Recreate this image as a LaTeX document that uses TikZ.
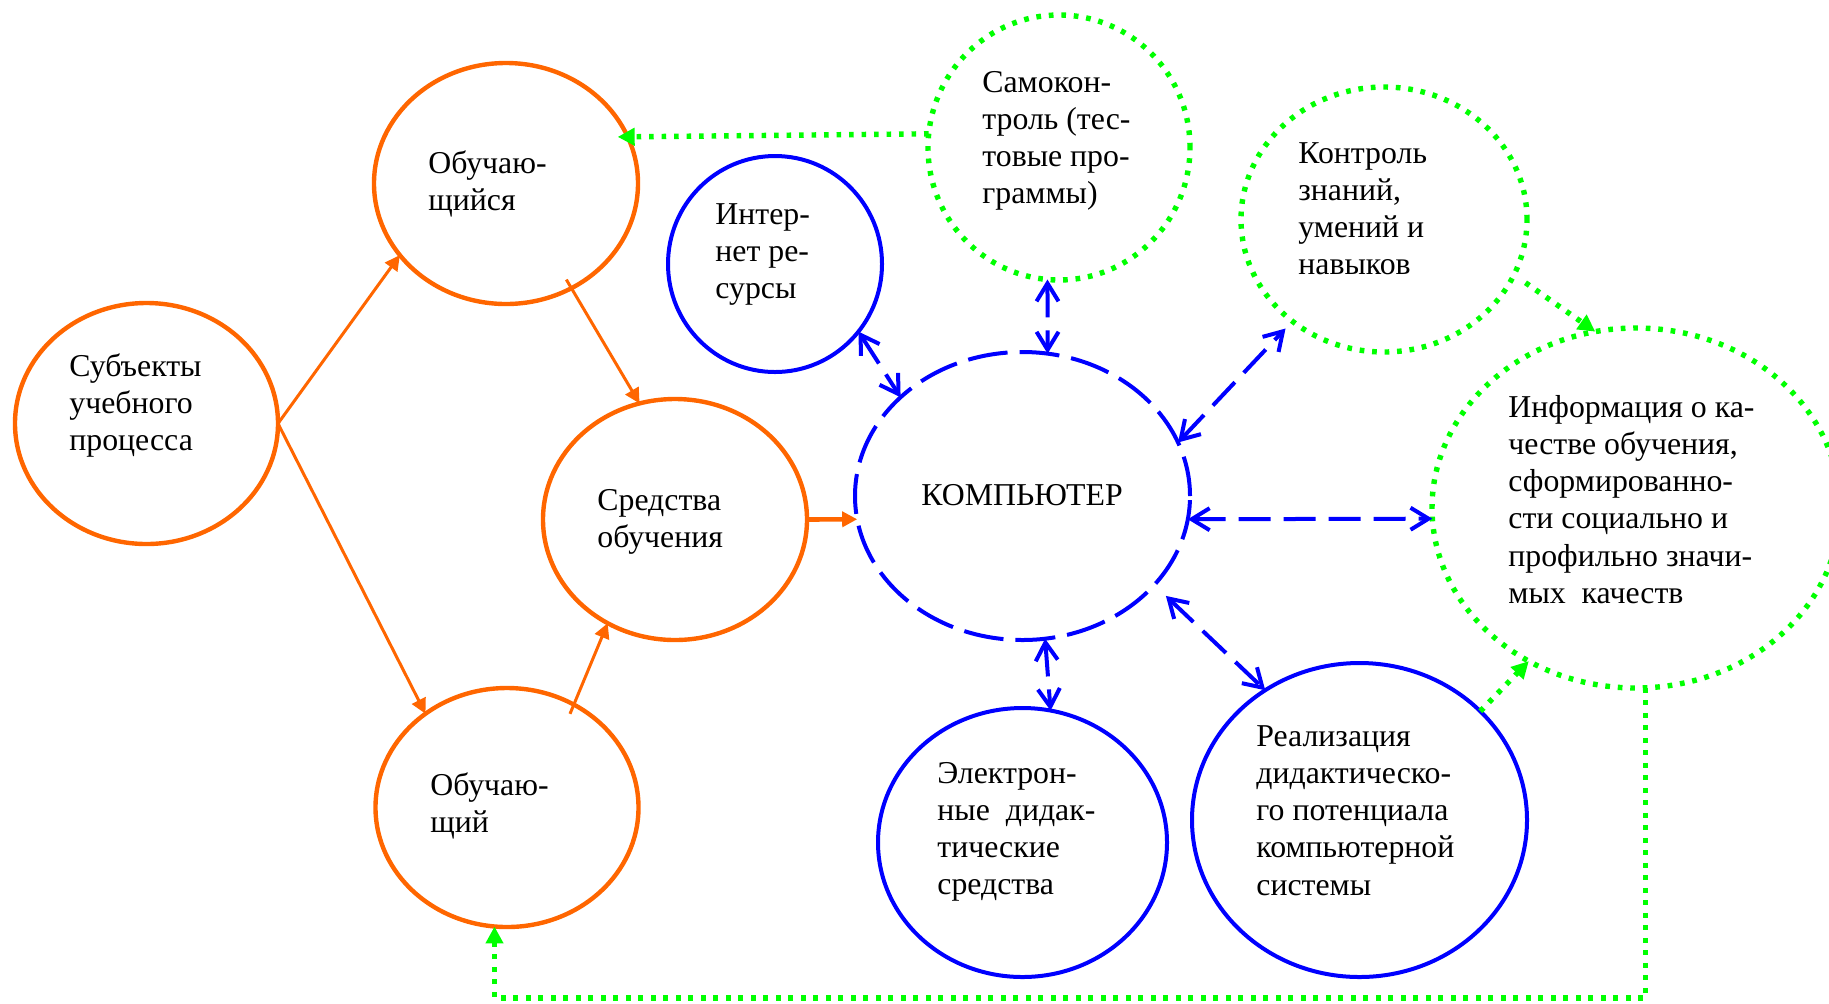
\documentclass[tikz,border=0pt]{standalone}
\usepackage{fontspec}
\setmainfont{Liberation Serif}
\usetikzlibrary{shapes.geometric,arrows.meta}
\definecolor{org}{RGB}{255,102,0}
\definecolor{blu}{RGB}{0,0,255}
\definecolor{grn}{RGB}{0,255,0}
\begin{document}
\begin{tikzpicture}[x=0.5pt,y=-0.5pt,
 ell/.style={ellipse, inner sep=0pt, outer sep=0pt},
 oell/.style={ell, draw=org, line width=2.2pt},
 bell/.style={ell, draw=blu, line width=2pt},
 bdash/.style={bell, dash pattern=on 20pt off 6pt},
 gell/.style={ell, draw=grn, line width=2.7pt, dash pattern=on 2.35pt off 3.9pt},
 txt/.style={anchor=base west, inner sep=0pt, align=left, font=\fontsize{15.9}{18.65}\selectfont},
 oarr/.style={draw=org, line width=1.5pt, -{Triangle[length=7.5pt,width=7.5pt]}},
 barr/.style={draw=blu, line width=2pt, dash pattern=on 16pt off 6.5pt, {Straight Barb[length=9pt,width=11pt]}-{Straight Barb[length=9pt,width=11pt]}},
 garr/.style={draw=grn, line width=2.7pt, dash pattern=on 2.35pt off 3.9pt, -{Triangle[length=8.5pt,width=8.5pt]}},
]
\useasboundingbox (0,0) rectangle (1829,1003);
% ellipses
\node[oell, minimum width=131.5pt, minimum height=120.5pt] (A) at (146.5,423.5) {};
\node[oell, minimum width=132pt, minimum height=120.5pt] (B) at (506,183.5) {};
\node[oell, minimum width=132pt, minimum height=120.5pt] (C) at (675,519.5) {};
\node[oell, minimum width=131.5pt, minimum height=119.5pt] (D) at (507,807.5) {};
\node[bell, minimum width=107pt, minimum height=108pt] (E) at (775,264) {};
\node[bdash, minimum width=167.5pt, minimum height=144pt] (F) at (1022.5,496) {};
\node[gell, minimum width=131pt, minimum height=132.5pt] (G) at (1059,147.5) {};
\node[gell, minimum width=143pt, minimum height=132.5pt] (H) at (1384,219.5) {};
\node[gell, minimum width=204pt, minimum height=180pt] (I) at (1636,508) {};
\node[bell, minimum width=144.5pt, minimum height=134.5pt] (J) at (1022.5,842.5) {};
\node[bell, minimum width=167.5pt, minimum height=157pt] (K) at (1359.5,820) {};
% texts (anchored at the baseline of the last line)
\node[txt] (tA) at (69,450.6) {Субъекты\\учебного\\процесса};
\node[txt] (tB) at (428,210.3) {Обучаю-\\щийся};
\node[txt] (tC) at (597,547.3) {Средства\\обучения};
\node[txt] (tD) at (430,832.3) {Обучаю-\\щий};
\node[txt] (tE) at (715,298.6) {Интер-\\нет ре-\\сурсы};
\node[txt] (tF) at (921,505) {КОМПЬЮТЕР};
\node[txt] (tG) at (982,203.9) {Самокон-\\троль (тес-\\товые про-\\граммы)};
\node[txt] (tH) at (1298,274.9) {Контроль\\знаний,\\умений и\\навыков};
\node[txt] (tI) at (1508,603.5) {Информация о ка-\\честве обучения,\\сформированно-\\сти социально и\\профильно значи-\\мых\ \ качеств};
\node[txt] (tJ) at (937,894.9) {Электрон-\\ные\ \ дидак-\\тические\\средства};
\node[txt] (tK) at (1256,895.2) {Реализация\\дидактическо-\\го потенциала\\компьютерной\\системы};
% orange arrows
\draw[oarr] (A.east) -- (B.214);
\draw[oarr] (A.east) -- (D.131);
\draw[oarr, shorten <=-5pt] (B.302.7) -- (C.107);
\draw[oarr, shorten <=-5pt] (D.57.4) -- (C.237.5);
\draw[oarr, line width=2.3pt] (C.east) -- (F.188.1);
% blue arrows
\draw[barr] (E.321) -- (F.141);
\draw[barr] (G.265) -- (F.80.5);
\draw[barr, shorten >=5pt] (F.19) -- (H.228.4);
\draw[barr] (F.352) -- (I.183.3);
\draw[barr] (F.279.9) -- (J.78);
\draw[barr, shorten <=8pt] (F.326.2) -- (K.126.4);
% green arrows
\draw[garr, shorten >=-5pt] (G.174.6) -- (B.21.8);
\draw[garr, shorten <=7pt] (H.337.9) -- (I.103.1);
\draw[garr] (K.42.1) -- (I.235);
\coordinate (bot) at (0,998);
\draw[garr] (I.273.5) -- (I.273.5 |- bot) -- (D.264.7 |- bot) -- (D.264.7);
\end{tikzpicture}
\end{document}
